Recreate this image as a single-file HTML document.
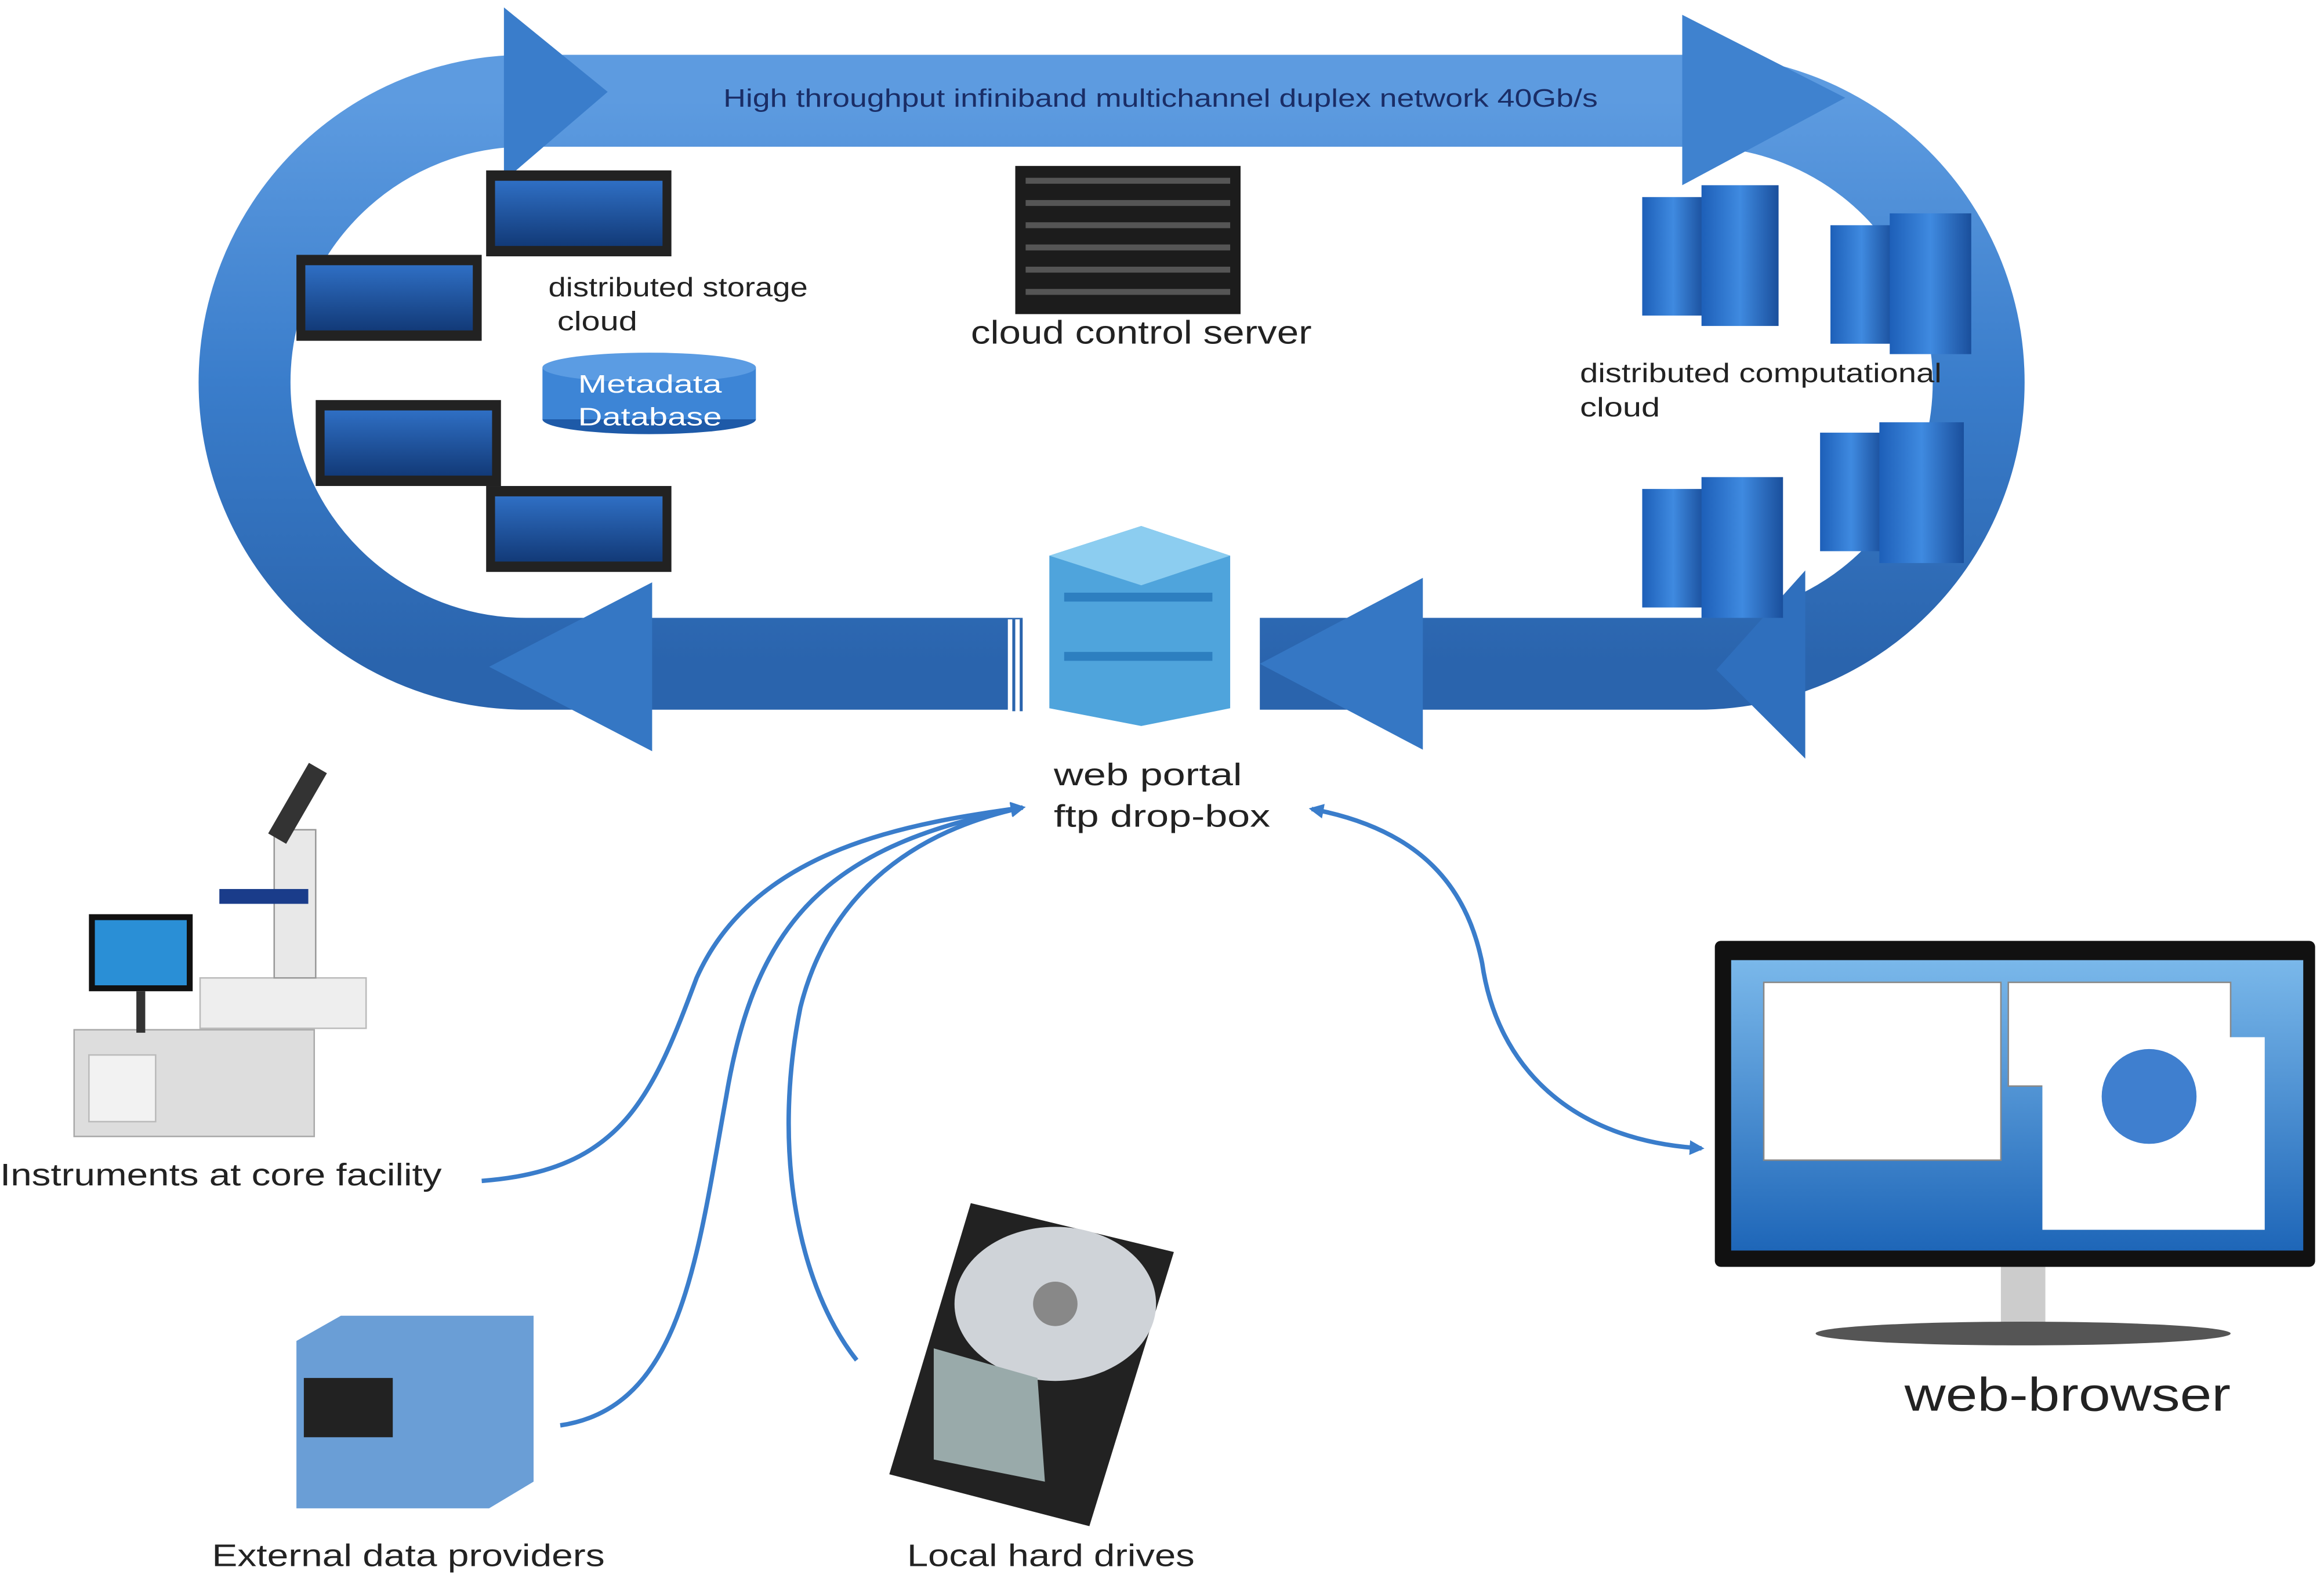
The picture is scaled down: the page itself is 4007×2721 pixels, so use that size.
<!DOCTYPE html>
<html><head><meta charset="utf-8"><style>
html,body{margin:0;padding:0;background:#fff}
svg{display:block}
text{font-family:"Liberation Sans",sans-serif}
</style></head><body>
<svg width="4007" height="2721" viewBox="0 0 1568 1065" preserveAspectRatio="none" xmlns="http://www.w3.org/2000/svg">
<defs>
<linearGradient id="band" x1="0" y1="0" x2="0" y2="1">
<stop offset="0" stop-color="#5d9be0"/><stop offset="0.5" stop-color="#3a7dcb"/><stop offset="1" stop-color="#2a64ad"/></linearGradient>
<linearGradient id="srv" x1="0" y1="0" x2="0" y2="1"><stop offset="0" stop-color="#2f6fc4"/><stop offset="1" stop-color="#123a78"/></linearGradient>
<linearGradient id="tow" x1="0" y1="0" x2="1" y2="0"><stop offset="0" stop-color="#1d5fb8"/><stop offset="0.5" stop-color="#3f8ae0"/><stop offset="1" stop-color="#1a4f9c"/></linearGradient>
<linearGradient id="scr" x1="0" y1="0" x2="0" y2="1"><stop offset="0" stop-color="#7ab8ea"/><stop offset="1" stop-color="#1e66b8"/></linearGradient>
<marker id="ah" markerWidth="10" markerHeight="10" refX="8" refY="5" orient="auto" markerUnits="userSpaceOnUse"><path d="M0,0 L10,5 L0,10 Z" fill="#3a7dcb"/></marker>
<marker id="ahs" markerWidth="10" markerHeight="10" refX="2" refY="5" orient="auto" markerUnits="userSpaceOnUse"><path d="M10,0 L0,5 L10,10 Z" fill="#3a7dcb"/></marker>
</defs>
<path d="M690,448 L355,448 A190,190 0 0 1 355,68 L1145,68 A190,190 0 0 1 1145,448 L850,448" fill="none" stroke="url(#band)" stroke-width="62"/>
<polygon points="340,5 410,62 340,122" fill="#3a7dcb"/>
<polygon points="1135,10 1245,66 1135,125" fill="#3f82cf"/>
<polygon points="440,393 330,450 440,507" fill="#3577c4"/>
<polygon points="960,390 850,448 960,506" fill="#3577c4"/>
<polygon points="1218,385 1158,452 1218,512" fill="#2f6fbd"/>
<rect x="680" y="418" width="12" height="62" fill="#fff"/><rect x="683" y="418" width="2" height="62" fill="#2a64ad"/><rect x="688" y="418" width="2" height="62" fill="#2a64ad"/>
<text x="488" y="72" font-size="17" fill="#1a2d66" textLength="590" lengthAdjust="spacingAndGlyphs">High throughput infiniband multichannel duplex network 40Gb/s</text>
<g>
<rect x="328" y="115" width="125" height="58" fill="#222"/><rect x="334" y="122" width="113" height="44" fill="url(#srv)"/>
<rect x="200" y="172" width="125" height="58" fill="#222"/><rect x="206" y="179" width="113" height="44" fill="url(#srv)"/>
<rect x="213" y="270" width="125" height="58" fill="#222"/><rect x="219" y="277" width="113" height="44" fill="url(#srv)"/>
<rect x="328" y="328" width="125" height="58" fill="#222"/><rect x="334" y="335" width="113" height="44" fill="url(#srv)"/>
</g>
<text x="370" y="200" font-size="18" fill="#222" textLength="175" lengthAdjust="spacingAndGlyphs">distributed storage</text>
<text x="376" y="223" font-size="18" fill="#222" textLength="54" lengthAdjust="spacingAndGlyphs">cloud</text>
<ellipse cx="438" cy="283" rx="72" ry="10" fill="#1e5aa8"/>
<rect x="366" y="248" width="144" height="35" fill="#3d85d6"/>
<ellipse cx="438" cy="248" rx="72" ry="10" fill="#5b9ce3"/>
<text x="390" y="265" font-size="17" fill="#fff" textLength="97" lengthAdjust="spacingAndGlyphs">Metadata</text>
<text x="390" y="287" font-size="17" fill="#fff" textLength="97" lengthAdjust="spacingAndGlyphs">Database</text>
<rect x="685" y="112" width="152" height="100" fill="#1c1c1c"/>
<g fill="#555"><rect x="692" y="120" width="138" height="4"/><rect x="692" y="135" width="138" height="4"/><rect x="692" y="150" width="138" height="4"/><rect x="692" y="165" width="138" height="4"/><rect x="692" y="180" width="138" height="4"/><rect x="692" y="195" width="138" height="4"/></g>
<text x="655" y="232" font-size="22" fill="#222" textLength="230" lengthAdjust="spacingAndGlyphs">cloud control server</text>
<g>
<rect x="1108" y="133" width="42" height="80" fill="url(#tow)"/><rect x="1148" y="125" width="52" height="95" fill="url(#tow)"/>
<rect x="1235" y="152" width="42" height="80" fill="url(#tow)"/><rect x="1275" y="144" width="55" height="95" fill="url(#tow)"/>
<rect x="1108" y="330" width="42" height="80" fill="url(#tow)"/><rect x="1148" y="322" width="55" height="95" fill="url(#tow)"/>
<rect x="1228" y="292" width="42" height="80" fill="url(#tow)"/><rect x="1268" y="285" width="57" height="95" fill="url(#tow)"/>
</g>
<text x="1066" y="258" font-size="18" fill="#222" textLength="244" lengthAdjust="spacingAndGlyphs">distributed computational</text>
<text x="1066" y="281" font-size="18" fill="#222" textLength="54" lengthAdjust="spacingAndGlyphs">cloud</text>
<polygon points="708,375 770,355 830,375 830,478 770,490 708,478" fill="#4fa4dc"/>
<polygon points="708,375 770,355 830,375 770,395" fill="#8ccdf0"/>
<rect x="718" y="400" width="100" height="6" fill="#2d7fc0"/><rect x="718" y="440" width="100" height="6" fill="#2d7fc0"/>
<text x="711" y="530" font-size="21" fill="#222" textLength="127" lengthAdjust="spacingAndGlyphs">web portal</text>
<text x="711" y="558" font-size="21" fill="#222" textLength="146" lengthAdjust="spacingAndGlyphs">ftp drop-box</text>
<g fill="none" stroke="#3a7dcb" stroke-width="3">
<path d="M325,797 C420,790 440,740 470,660 C510,570 620,555 690,545" marker-end="url(#ah)"/>
<path d="M378,962 C460,950 470,850 490,740 C510,620 560,570 690,545" marker-end="url(#ah)"/>
<path d="M578,918 C540,870 520,780 540,680 C560,600 620,560 690,545" marker-end="url(#ah)"/>
<path d="M885,546 C960,560 990,600 1000,650 C1010,720 1060,770 1148,775" marker-start="url(#ahs)" marker-end="url(#ah)"/>
</g>
<rect x="50" y="695" width="162" height="72" fill="#ddd" stroke="#aaa"/>
<rect x="60" y="712" width="45" height="45" fill="#f2f2f2" stroke="#bbb"/>
<rect x="60" y="617" width="70" height="52" fill="#111"/><rect x="64" y="621" width="62" height="44" fill="#2a8fd6"/>
<rect x="92" y="669" width="6" height="28" fill="#333"/>
<rect x="135" y="660" width="112" height="34" fill="#eee" stroke="#bbb"/>
<rect x="185" y="560" width="28" height="100" fill="#e8e8e8" stroke="#999"/>
<rect x="195" y="515" width="14" height="55" fill="#333" transform="rotate(30 202 540)"/>
<rect x="148" y="600" width="60" height="10" fill="#1a3c8a"/>
<text x="0" y="800" font-size="21" fill="#222" textLength="298" lengthAdjust="spacingAndGlyphs">Instruments at core facility</text>
<polygon points="200,905 230,888 360,888 360,1000 330,1018 200,1018" fill="#6a9ed6"/>
<rect x="205" y="930" width="60" height="40" fill="#222"/>
<text x="143" y="1057" font-size="21" fill="#222" textLength="265" lengthAdjust="spacingAndGlyphs">External data providers</text>
<polygon points="655,812 792,845 735,1030 600,995" fill="#222"/>
<ellipse cx="712" cy="880" rx="68" ry="52" fill="#cfd3d8"/>
<circle cx="712" cy="880" r="15" fill="#888"/>
<polygon points="630,910 700,930 705,1000 630,985" fill="#9aa"/>
<text x="612" y="1057" font-size="21" fill="#222" textLength="194" lengthAdjust="spacingAndGlyphs">Local hard drives</text>
<rect x="1157" y="635" width="405" height="220" rx="4" fill="#111"/>
<rect x="1168" y="648" width="386" height="196" fill="url(#scr)"/>
<rect x="1190" y="663" width="160" height="120" fill="#fff" stroke="#888"/>
<rect x="1355" y="663" width="150" height="70" fill="#fff" stroke="#888"/>
<rect x="1378" y="700" width="150" height="130" fill="#fff"/>
<circle cx="1450" cy="740" r="32" fill="#3f7fcf"/>
<rect x="1350" y="855" width="30" height="40" fill="#ccc"/>
<ellipse cx="1365" cy="900" rx="140" ry="8" fill="#555"/>
<text x="1285" y="952" font-size="32" fill="#222" textLength="220" lengthAdjust="spacingAndGlyphs">web-browser</text>
</svg>
</body></html>
